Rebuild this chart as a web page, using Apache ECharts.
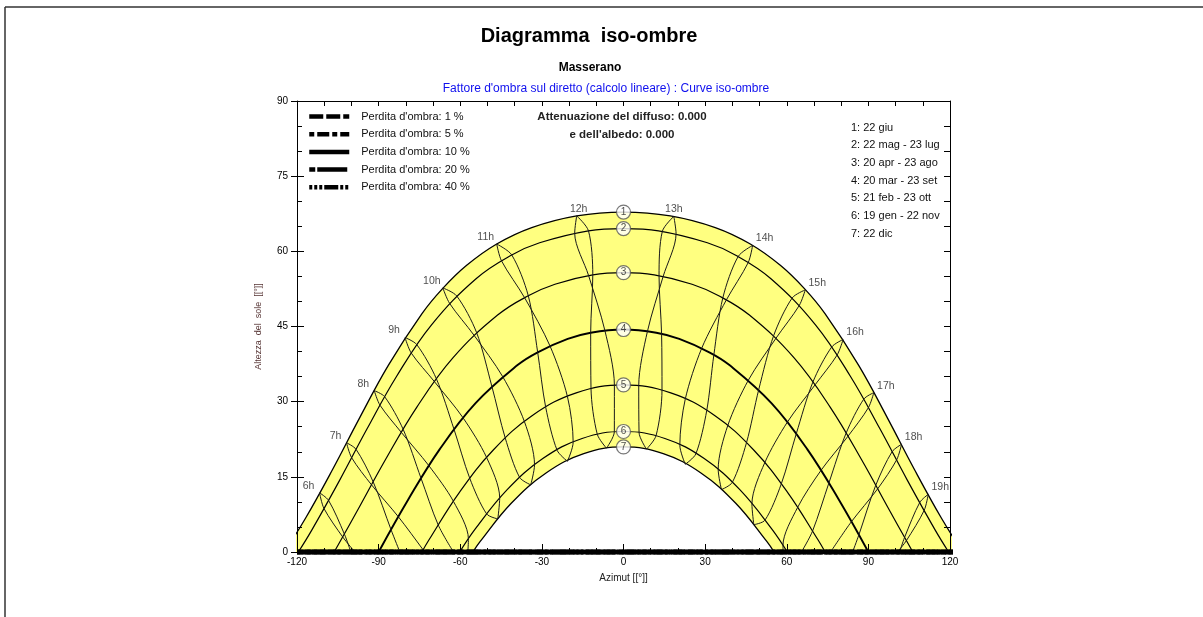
<!DOCTYPE html>
<html>
<head>
<meta charset="utf-8">
<script src="https://cdn.jsdelivr.net/npm/echarts@6/dist/echarts.min.js"></script>
<style>
  html, body { margin: 0; padding: 0; background: #fff; }
  #chart-iso { width: 1203px; height: 617px; }
</style>
</head>
<body>
<div id="chart-iso"></div>
<script>
// sun paths, one per date pair: [azimuth, height]
const path1 = [[-124.65,0],[-116.82,6.78],[-106.88,16.51],[-96.99,26.77],[-86.44,37.24],[-74.06,47.57],[-66.59,52.51],[-57.75,57.16],[-46.6,61.46],[-33.73,64.74],[-17.2,67.08],[0,67.84],[17.2,67.08],[33.73,64.74],[46.6,61.46],[57.75,57.16],[66.59,52.51],[74.06,47.57],[86.44,37.24],[96.99,26.77],[106.88,16.51],[116.82,6.78],[124.65,0]];
const path2 = [[-119.5,0],[-114.57,4.37],[-104.4,14.25],[-94.25,24.59],[-83.38,35.07],[-70.63,45.29],[-54.08,54.59],[-41.07,59.28],[-30.82,61.71],[-12.87,64.09],[0,64.55],[12.87,64.09],[30.82,61.71],[41.07,59.28],[54.08,54.59],[70.63,45.29],[83.38,35.07],[94.25,24.59],[104.4,14.25],[114.57,4.37],[119.5,0]];
const path3 = [[-106.34,0],[-98,8.08],[-87.36,18.55],[-75.95,28.92],[-62.71,38.73],[-46.27,47.28],[-35,51.14],[-25.2,53.44],[-11.29,55.3],[0,55.75],[11.29,55.3],[25.2,53.44],[35,51.14],[46.27,47.28],[62.71,38.73],[75.95,28.92],[87.36,18.55],[98,8.08],[106.34,0]];
const path4 = [[-90,0],[-79.16,10.43],[-67.58,20.48],[-54.45,29.66],[-38.93,37.3],[-31.54,39.85],[-20.5,42.52],[-12.06,43.76],[0,44.4],[12.06,43.76],[20.5,42.52],[31.54,39.85],[38.93,37.3],[54.45,29.66],[67.58,20.48],[79.16,10.43],[90,0]];
const path5 = [[-74.1,0],[-71.59,2.34],[-60.3,11.91],[-47.77,20.4],[-33.5,27.24],[-17.37,31.76],[0,33.35],[17.37,31.76],[33.5,27.24],[47.77,20.4],[60.3,11.91],[71.59,2.34],[74.1,0]];
const path6 = [[-60.2,0],[-54.54,4.57],[-42.75,12.44],[-29.66,18.65],[-15.22,22.66],[0,24.05],[15.22,22.66],[29.66,18.65],[42.75,12.44],[54.54,4.57],[60.2,0]];
const path7 = [[-55.35,0],[-52.66,2.11],[-41.17,9.77],[-28.46,15.77],[-14.6,19.62],[0,20.96],[14.6,19.62],[28.46,15.77],[41.17,9.77],[52.66,2.11],[55.35,0]];

const curveNumbers = ['1','2','3','4','5','6','7'];
const curveTops = [67.84, 64.55, 55.75, 44.4, 33.35, 24.05, 20.96];
const curveDates = ['1: 22 giu','2: 22 mag - 23 lug','3: 20 apr - 23 ago','4: 20 mar - 23 set','5: 21 feb - 23 ott','6: 19 gen - 22 nov','7: 22 dic'];

// hour lines, first half of year (dic -> giu) and second half (giu -> dic)
const hourNames = ['6h','7h','8h','9h','10h','11h','12h','13h','14h','15h','16h','17h','18h','19h'];
const hoursFirstHalf = [
  [[-111.7,11.8],[-108.4,10.3],[-102.6,3.6],[-100.2,0]],
  [[-101.8,21.8],[-98.3,20.5],[-92,14],[-85.4,4.4],[-82.2,0]],
  [[-91.6,32.2],[-87.8,31],[-81,24.5],[-74.4,14.7],[-68.1,5.4],[-62.5,0]],
  [[-80.3,42.8],[-76,41.4],[-68.8,34.6],[-62.3,24.5],[-56.5,14.7],[-50.3,7.6],[-46.2,6.6]],
  [[-66.4,52.7],[-61.3,51.1],[-54,43.8],[-48.4,33.1],[-43.5,22.8],[-38.2,14.9],[-34.1,13.4]],
  [[-46.6,61.46],[-41.07,59.28],[-35,51.14],[-31.54,39.85],[-28.6,28.9],[-24.4,20.3],[-20.6,18.1]],
  [[-17.2,67.08],[-12.87,64.09],[-11.29,55.3],[-12.06,43.76],[-11.94,32.61],[-9.64,23.5],[-6.26,20.72]],
  [[18.49,66.97],[19.32,63.5],[14.58,55],[8.81,44.06],[5.6,33.19],[5.71,23.86],[8.44,20.52]],
  [[47.45,61.18],[45.85,57.78],[37.8,50.3],[28.7,40.6],[22.7,30.5],[20.7,21.3],[22.7,17.5]],
  [[66.8,52.3],[64.6,49.2],[56.1,42.7],[45.9,34.3],[38.3,25.2],[34.8,16.5],[36,12.45]],
  [[80.7,42.4],[78.5,39.3],[70.4,33.35],[60.2,25.9],[51.9,17.8],[47.2,9.6],[47.9,5.45]],
  [[92,31.8],[90,28.8],[82.5,23.1],[72.6,16.3],[64,8.9],[58.6,1.3],[58.7,0]],
  [[102.2,21.5],[100.4,18.4],[93.4,12.6],[83.7,6],[76.1,0]],
  [[112,11.5],[110.5,8.3],[104,2.3],[100.7,0]]
];
const hoursSecondHalf = [
  [[-111.7,11.8],[-110.1,8.7],[-103.2,3],[-98.7,0]],
  [[-101.8,21.8],[-99.9,18.8],[-92.6,13.4],[-82.7,7],[-73.6,0.4],[-73.2,0]],
  [[-91.6,32.2],[-89.5,29.3],[-81.7,23.9],[-71.5,17.2],[-62.5,10.1],[-57,2.6],[-57.2,0]],
  [[-80.3,42.8],[-78,39.7],[-69.5,34],[-59,26.8],[-50.3,18.85],[-45.5,10.8],[-46.2,6.6]],
  [[-66.4,52.7],[-63.9,49.6],[-55,43.3],[-44.4,35],[-36.4,26],[-32.7,17.4],[-34.1,13.4]],
  [[-46.6,61.46],[-44.85,58.11],[-36.3,50.7],[-27,41.1],[-20.6,31],[-18.5,21.9],[-20.6,18.1]],
  [[-17.2,67.08],[-17.94,63.63],[-12.83,55.17],[-6.84,44.2],[-3.35,33.29],[-3.37,23.99],[-6.26,20.72]],
  [[18.49,66.97],[14.28,64],[13.06,55.15],[14,43.54],[14.15,32.3],[11.96,23.2],[8.44,20.52]],
  [[47.45,61.18],[42.12,58.95],[36.5,50.7],[33.2,39.3],[30.6,28.25],[26.6,19.6],[22.7,17.5]],
  [[66.8,52.3],[62,50.7],[55.2,43.2],[49.7,32.4],[45.2,21.8],[40,13.9],[36,12.45]],
  [[80.7,42.4],[76.5,40.9],[69.6,33.9],[63.5,23.6],[58,13.6],[52,6.35],[47.9,5.45]],
  [[92,31.8],[88.3,30.5],[81.8,23.7],[75.5,13.8],[69.5,4.2],[65.4,0]],
  [[102.2,21.5],[98.7,20],[92.7,13.3],[86.5,3.4],[84.2,0]],
  [[112,11.5],[108.9,9.9],[103.3,2.9],[101.5,0]]
];

// iso-shade curves (no far shading: all lie on the horizon)
const shadeNames = ["Perdita d'ombra: 1 %","Perdita d'ombra: 5 %","Perdita d'ombra: 10 %","Perdita d'ombra: 20 %","Perdita d'ombra: 40 %"];
const shadeDash = [[14,3],[5,3,12,3],'solid',[6,2,30,2],[3,2,3,2,3,2,14,2]];
const shadeLine = [[-120,0],[122,0]];

const font = "'Liberation Sans', Arial, sans-serif";

function curveSeries(data, width, fill) {
  const s = {
    type: 'line', data: data, smooth: 0.4, symbol: 'none', clip: false, z: 2,
    lineStyle: { color: '#000', width: width },
    silent: true
  };
  if (fill) {
    s.areaStyle = { color: fill, opacity: 1 };
    s.z = 1;
  }
  return s;
}

window.fillIso = function fillIso() {
  const dom = document.getElementById('chart-iso');
  const chart = echarts.init(dom, null, { renderer: 'canvas' });

  const series = [];
  series.push(curveSeries(path1, 1.3, '#ffff80'));
  series.push(curveSeries(path7, 1.3, '#ffffff'));
  [path2, path3, path5, path6].forEach(p => series.push(curveSeries(p, 1.2)));
  series.push(curveSeries(path4, 1.9));

  hoursFirstHalf.concat(hoursSecondHalf).forEach(h => {
    series.push({
      type: 'line', data: h, smooth: 0.3, symbol: 'none', clip: false, z: 2, silent: true,
      lineStyle: { color: '#1a1a1a', width: 1 }
    });
  });

  shadeNames.forEach((name, i) => {
    series.push({
      name: name, type: 'line', data: shadeLine, symbol: 'none', clip: false,
      z: shadeDash[i] === 'solid' ? 4 : 3,
      itemStyle: { color: '#000' },
      lineStyle: { color: '#000', width: 4.5, type: shadeDash[i] }
    });
  });

  // numbered circles on top of each sun path
  series.push({
    type: 'scatter', z: 5, symbol: 'circle', symbolSize: 14, silent: true,
    itemStyle: { color: '#fff', borderColor: '#555', borderWidth: 1.2 },
    label: { show: true, position: 'inside', fontSize: 10, color: '#222', fontFamily: font, formatter: p => p.name },
    data: curveNumbers.map((n, i) => ({ name: n, value: [0, curveTops[i]] }))
  });

  // hour labels along the 22 giu path
  series.push({
    type: 'scatter', z: 5, symbolSize: 1, silent: true,
    itemStyle: { color: 'rgba(0,0,0,0)' },
    label: { show: true, position: 'top', distance: 3, fontSize: 10.5, color: '#222', fontFamily: font, formatter: p => p.name },
    data: hourNames.map((n, i) => {
      const pt = hoursFirstHalf[i][0];
      let dx = pt[0] < -30 ? -11 : (pt[0] > 30 ? 12 : (pt[0] < 0 ? 2 : 0));
      return { name: n, value: pt, label: { offset: [dx, 2] } };
    })
  });

  const axisLine = { show: true, onZero: false, lineStyle: { color: '#000', width: 1 } };
  const dateTexts = curveDates.map((t, i) => ({
    type: 'text', left: 851, top: 122 + i * 17.7, z: 10,
    style: { text: t, font: '11px ' + font, fill: '#111' }
  }));

  var option = {
    animation: false,
    backgroundColor: '#fff',
    grid: { left: 297, right: 253, top: 101, bottom: 65 },
    legend: {
      data: shadeNames, orient: 'vertical', left: 307, top: 111, padding: 0,
      itemWidth: 40, itemHeight: 12, itemGap: 6.7, selectedMode: false,
      itemStyle: { opacity: 0 },
      lineStyle: { width: 4.5, color: '#000' },
      textStyle: { fontSize: 11, color: '#111', fontFamily: font, padding: [0, 0, 0, 7] }
    },
    xAxis: [
      {
        type: 'value', min: -120, max: 120, interval: 30, position: 'bottom', z: 4,
        axisLine: axisLine, splitLine: { show: false },
        axisTick: { inside: true, length: 8, lineStyle: { color: '#000' } },
        minorTick: { show: true, splitNumber: 3, length: 4, lineStyle: { color: '#000' } },
        axisLabel: { fontSize: 10, color: '#000', margin: 5, fontFamily: font },
        name: 'Azimut [[°]]', nameLocation: 'middle', nameGap: 21,
        nameTextStyle: { fontSize: 10, color: '#222', fontFamily: font }
      },
      {
        type: 'value', min: -120, max: 120, interval: 10, position: 'top', z: 4,
        axisLine: axisLine, splitLine: { show: false },
        axisTick: { inside: true, length: 5, lineStyle: { color: '#000' } },
        axisLabel: { show: false }
      }
    ],
    yAxis: [
      {
        type: 'value', min: 0, max: 90, interval: 15, position: 'left', z: 4,
        axisLine: axisLine, splitLine: { show: false },
        axisTick: { inside: true, length: 7, lineStyle: { color: '#000' } },
        minorTick: { show: true, splitNumber: 3, length: 5, lineStyle: { color: '#000' } },
        axisLabel: { fontSize: 10, color: '#000', margin: 9, fontFamily: font },
        name: 'Altezza  del  sole  [[°]]', nameLocation: 'middle', nameGap: 34, nameRotate: 90,
        nameTextStyle: { fontSize: 9, color: '#533', fontFamily: font }
      },
      {
        type: 'value', min: 0, max: 90, interval: 15, position: 'left', z: 4,
        axisLine: { show: false, onZero: false }, splitLine: { show: false },
        axisTick: { inside: false, length: 6, lineStyle: { color: '#000' } },
        axisLabel: { show: false }
      },
      {
        type: 'value', min: 0, max: 90, interval: 5, position: 'right', z: 4,
        axisLine: axisLine, splitLine: { show: false },
        axisTick: { inside: true, length: 6, lineStyle: { color: '#000' } },
        axisLabel: { show: false }
      }
    ],
    graphic: [
      { type: 'line', shape: { x1: 5, y1: 7, x2: 1203, y2: 7 }, style: { stroke: '#333', lineWidth: 1.5 } },
      { type: 'line', shape: { x1: 5, y1: 7, x2: 5, y2: 617 }, style: { stroke: '#333', lineWidth: 1.5 } },
      { type: 'text', x: 589, y: 36, style: { text: 'Diagramma  iso-ombre', font: 'bold 20px ' + font, fill: '#000', align: 'center', verticalAlign: 'middle' } },
      { type: 'text', x: 590, y: 68, style: { text: 'Masserano', font: 'bold 12px ' + font, fill: '#000', align: 'center', verticalAlign: 'middle' } },
      { type: 'text', x: 606, y: 89, style: { text: "Fattore d'ombra sul diretto (calcolo lineare) : Curve iso-ombre", font: '12px ' + font, fill: '#1010ee', align: 'center', verticalAlign: 'middle' } },
      { type: 'text', x: 622, y: 117, z: 10, style: { text: 'Attenuazione del diffuso: 0.000', font: 'bold 11.5px ' + font, fill: '#222', align: 'center', verticalAlign: 'middle' } },
      { type: 'text', x: 622, y: 135, z: 10, style: { text: "e dell'albedo: 0.000", font: 'bold 11.5px ' + font, fill: '#222', align: 'center', verticalAlign: 'middle' } }
    ].concat(dateTexts),
    series: series
  };

  option && chart.setOption(option);
  window.addEventListener('resize', chart.resize);
};

fillIso();
</script>
</body>
</html>
